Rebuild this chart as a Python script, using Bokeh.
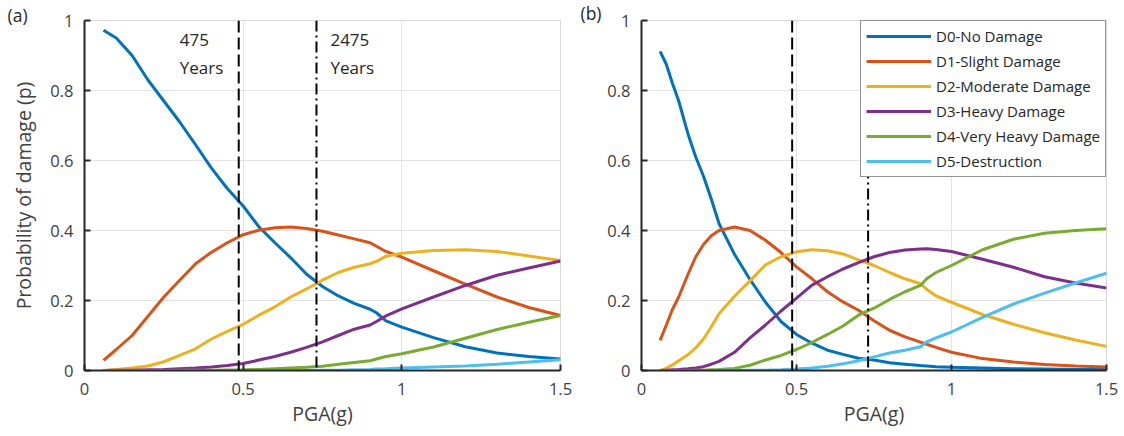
from bokeh.plotting import figure
from bokeh.layouts import row
from bokeh.models import Span, Label, CustomJSTickFormatter, FixedTicker, Range1d, Legend, LegendItem, Title
from bokeh.embed import file_html
from bokeh.resources import INLINE

# ---------------- data ----------------
names = ["D0-No Damage", "D1-Slight Damage", "D2-Moderate Damage",
         "D3-Heavy Damage", "D4-Very Heavy Damage", "D5-Destruction"]
colors = ["#0072BD", "#D95319", "#EDB120", "#7E2F8E", "#77AC30", "#4DBEEE"]

x_a = [0.06, 0.1, 0.15, 0.2, 0.25, 0.3, 0.35, 0.4, 0.45, 0.5, 0.55, 0.6, 0.65, 0.7,
       0.75, 0.8, 0.85, 0.9, 0.92, 0.95, 1.0, 1.1, 1.2, 1.3, 1.4, 1.5]
a_d0 = [0.972, 0.95, 0.90, 0.83, 0.77, 0.71, 0.645, 0.578, 0.52, 0.47, 0.41, 0.365, 0.322, 0.275,
        0.24, 0.213, 0.192, 0.175, 0.165, 0.142, 0.124, 0.094, 0.068, 0.05, 0.04, 0.033]
a_d1 = [0.029, 0.06, 0.10, 0.155, 0.21, 0.258, 0.305, 0.338, 0.365, 0.388, 0.401, 0.408, 0.41, 0.406,
        0.398, 0.387, 0.376, 0.365, 0.355, 0.34, 0.324, 0.285, 0.247, 0.21, 0.18, 0.157]
a_d2 = [0.0, 0.003, 0.007, 0.013, 0.025, 0.043, 0.062, 0.09, 0.112, 0.132, 0.158, 0.182, 0.21, 0.233,
        0.258, 0.28, 0.295, 0.305, 0.312, 0.326, 0.335, 0.343, 0.345, 0.34, 0.327, 0.314]
a_d3 = [0.0, 0.0005, 0.001, 0.002, 0.003, 0.005, 0.007, 0.01, 0.014, 0.02, 0.03, 0.04, 0.052, 0.066,
        0.082, 0.1, 0.118, 0.13, 0.14, 0.156, 0.176, 0.21, 0.243, 0.272, 0.293, 0.313]
a_d4 = [0.0, 0.0, 0.0, 0.0, 0.0, 0.0005, 0.001, 0.001, 0.0015, 0.002, 0.003, 0.005, 0.007, 0.009,
        0.012, 0.018, 0.023, 0.028, 0.033, 0.04, 0.048, 0.067, 0.092, 0.117, 0.138, 0.157]
a_d5 = [0.0, 0.0, 0.0, 0.0, 0.0, 0.0, 0.0, 0.0, 0.0, 0.0, 0.0, 0.0, 0.0, 0.0,
        0.0005, 0.001, 0.002, 0.003, 0.004, 0.005, 0.007, 0.01, 0.013, 0.018, 0.024, 0.031]

x_b = [0.06, 0.08, 0.1, 0.12, 0.15, 0.175, 0.2, 0.225, 0.25, 0.3, 0.35, 0.4, 0.45, 0.5, 0.55,
       0.6, 0.65, 0.7, 0.75, 0.8, 0.85, 0.9, 0.92, 0.95, 1.0, 1.1, 1.2, 1.3, 1.4, 1.5]
b_d0 = [0.912, 0.875, 0.82, 0.77, 0.676, 0.61, 0.555, 0.49, 0.42, 0.332, 0.26, 0.195, 0.14, 0.103, 0.078,
        0.058, 0.046, 0.035, 0.03, 0.022, 0.018, 0.014, 0.013, 0.011, 0.009, 0.007, 0.005, 0.004, 0.003, 0.003]
b_d1 = [0.086, 0.13, 0.175, 0.21, 0.275, 0.325, 0.36, 0.385, 0.4, 0.41, 0.4, 0.372, 0.337, 0.296, 0.262,
        0.225, 0.196, 0.172, 0.142, 0.115, 0.096, 0.081, 0.075, 0.066, 0.052, 0.034, 0.024, 0.017, 0.013, 0.01]
b_d2 = [0.0, 0.006, 0.016, 0.028, 0.045, 0.065, 0.09, 0.125, 0.162, 0.212, 0.256, 0.302, 0.325, 0.339, 0.345,
        0.342, 0.333, 0.316, 0.3, 0.28, 0.262, 0.248, 0.232, 0.213, 0.195, 0.16, 0.132, 0.108, 0.087, 0.069]
b_d3 = [0.0, 0.001, 0.002, 0.003, 0.005, 0.007, 0.011, 0.018, 0.026, 0.052, 0.093, 0.13, 0.17, 0.207, 0.244,
        0.268, 0.29, 0.308, 0.325, 0.337, 0.344, 0.347, 0.348, 0.346, 0.34, 0.318, 0.295, 0.268, 0.25, 0.236]
b_d4 = [0.0, 0.0, 0.0, 0.0, 0.0, 0.0005, 0.001, 0.002, 0.003, 0.006, 0.015, 0.03, 0.043, 0.06, 0.08,
        0.103, 0.127, 0.158, 0.178, 0.203, 0.225, 0.243, 0.262, 0.28, 0.3, 0.345, 0.375, 0.392, 0.4, 0.405]
b_d5 = [0.0, 0.0, 0.0, 0.0, 0.0, 0.0, 0.0, 0.0, 0.0005, 0.0005, 0.001, 0.001, 0.002, 0.004, 0.007,
        0.012, 0.019, 0.028, 0.039, 0.05, 0.058, 0.068, 0.082, 0.093, 0.11, 0.152, 0.19, 0.221, 0.25, 0.278]

return_periods = ["475", "2475"]
pga_rp = [0.486, 0.731]
x_ticks = [0, 0.5, 1, 1.5]
y_ticks = [0, 0.2, 0.4, 0.6, 0.8, 1]
panel_tags = ["(a)", "(b)"]

FONT = "Open Sans"
TXT = "#262626"

fmt = CustomJSTickFormatter(code="return Number(tick.toFixed(2)).toString();")


def make_fig(width, bl, br, ylabel, tag, tag_offset, tag_standoff):
    p = figure(width=width, height=436, output_backend="svg", toolbar_location=None,
               x_range=Range1d(0, 1.5), y_range=Range1d(0, 1),
               min_border_left=bl, min_border_right=br, min_border_top=20, min_border_bottom=66)
    p.title = Title(text=tag, align="left", offset=tag_offset, standoff=tag_standoff,
                    text_font=FONT, text_font_size="17.5px", text_font_style="normal",
                    text_color=TXT)
    p.outline_line_color = "#d9d9d9"
    p.outline_line_width = 1
    for ax in (p.xaxis[0], p.yaxis[0]):
        ax.axis_line_color = TXT
        ax.axis_line_width = 2
        ax.major_tick_in = 6
        ax.major_tick_out = 0
        ax.major_tick_line_color = TXT
        ax.major_tick_line_width = 2
        ax.minor_tick_line_color = None
        ax.major_label_text_font = FONT
        ax.major_label_text_font_size = "16.5px"
        ax.major_label_text_color = "#404040"
        ax.axis_label_text_font = FONT
        ax.axis_label_text_font_size = "19.5px"
        ax.axis_label_text_font_style = "normal"
        ax.axis_label_text_color = "#404040"
        ax.formatter = fmt
    p.xaxis.ticker = FixedTicker(ticks=x_ticks)
    p.yaxis.ticker = FixedTicker(ticks=y_ticks)
    p.xaxis.major_label_standoff = 12
    p.yaxis.major_label_standoff = 11
    p.xaxis.axis_label = "PGA(g)"
    p.xaxis.axis_label_standoff = 2
    if ylabel:
        p.yaxis.axis_label = ylabel
        p.yaxis.axis_label_standoff = 10
    p.grid.grid_line_color = "#e3e3e3"
    p.grid.grid_line_width = 1
    return p


pa = make_fig(575, 84, 15, "Probability of damage (p)", panel_tags[0], -77, -12)
pb = make_fig(549, 66, 18, None, panel_tags[1], -61, -9)

series_a = [a_d0, a_d1, a_d2, a_d3, a_d4, a_d5]
series_b = [b_d0, b_d1, b_d2, b_d3, b_d4, b_d5]

for p in (pa, pb):
    p.add_layout(Span(location=pga_rp[0], dimension="height", line_color="black",
                      line_width=2, line_dash="12 5"))
    p.add_layout(Span(location=pga_rp[1], dimension="height", line_color="black",
                      line_width=2, line_dash="11 4 2 4"))

for ys, c in zip(series_a, colors):
    pa.line(x_a, ys, line_color=c, line_width=3)

items = []
for ys, c, n in zip(series_b, colors, names):
    r = pb.line(x_b, ys, line_color=c, line_width=3)
    items.append(LegendItem(label=n, renderers=[r]))

leg = Legend(items=items, location="top_right", margin=0, padding=5, spacing=5,
             glyph_width=65, glyph_height=20, label_height=20, label_standoff=5,
             label_text_font=FONT, label_text_font_size="15px", label_text_color="#262626",
             border_line_color="#262626", border_line_width=1,
             background_fill_color="white", background_fill_alpha=1.0)
pb.add_layout(leg)

# return-period annotations
for xv, rp in zip([0.30, 0.775], return_periods):
    pa.add_layout(Label(x=xv, y=0.943, text=rp, text_font=FONT, text_font_size="17px",
                        text_color=TXT, text_baseline="middle"))
    pa.add_layout(Label(x=xv, y=0.866, text="Years", text_font=FONT, text_font_size="17px",
                        text_color=TXT, text_baseline="middle"))

layout = row(pa, pb)
open("out.html", "w").write(file_html(layout, INLINE))
